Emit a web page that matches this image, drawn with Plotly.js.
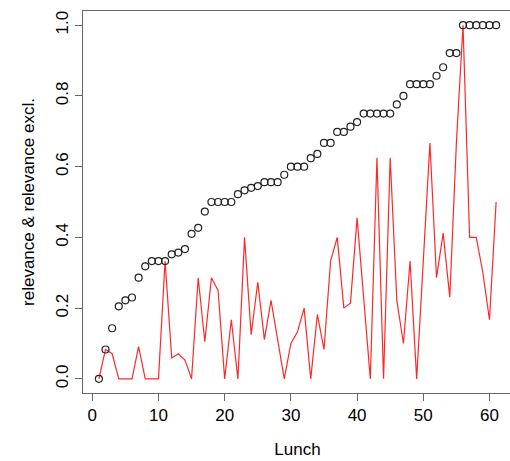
<!DOCTYPE html>
<html>
<head>
<meta charset="utf-8">
<script src="https://cdn.plot.ly/plotly-3.0.1.min.js"></script>
<style>
html, body { margin: 0; padding: 0; overflow: hidden; background: #fff; }
#chart { width: 514px; height: 461px; }
</style>
</head>
<body>
<div id="chart"></div>
<script>
// Lunch index
const lunch = [];
for (let i = 1; i <= 61; i++) lunch.push(i);

// relevance (open circles)
const relevance = [
  0, 0.083, 0.143, 0.205, 0.222, 0.23, 0.286, 0.318, 0.333, 0.333,
  0.333, 0.352, 0.357, 0.367, 0.41, 0.427, 0.473, 0.5, 0.5, 0.5,
  0.5, 0.522, 0.533, 0.54, 0.545, 0.556, 0.556, 0.556, 0.577, 0.6,
  0.6, 0.6, 0.624, 0.636, 0.667, 0.667, 0.698, 0.698, 0.713, 0.726,
  0.75, 0.75, 0.75, 0.75, 0.75, 0.776, 0.8, 0.833, 0.833, 0.833,
  0.833, 0.857, 0.881, 0.921, 0.921, 1, 1, 1, 1, 1,
  1
];

// relevance excl. (red line)
const relevanceExcl = [
  0, 0.083, 0.071, 0, 0, 0, 0.091, 0, 0, 0,
  0.333, 0.059, 0.071, 0.053, 0, 0.286, 0.105, 0.286, 0.25, 0,
  0.167, 0, 0.4, 0.125, 0.273, 0.111, 0.222, 0.111, 0, 0.1,
  0.133, 0.2, 0, 0.182, 0.083, 0.333, 0.4, 0.2, 0.214, 0.455,
  0.227, 0, 0.625, 0, 0.625, 0.222, 0.1, 0.333, 0, 0.333,
  0.667, 0.286, 0.412, 0.231, 0.667, 1, 0.4, 0.4, 0.3, 0.167,
  0.5
];

const xTicks = [0, 10, 20, 30, 40, 50, 60];
const yTicks = [0, 0.2, 0.4, 0.6, 0.8, 1.0];
const yTickText = ['0.0', '0.2', '0.4', '0.6', '0.8', '1.0'];

const font = { family: 'Liberation Sans, Arial, sans-serif', size: 17, color: '#000' };

const traces = [
  {
    x: lunch, y: relevanceExcl, type: 'scatter', mode: 'lines',
    line: { color: 'rgb(255,40,40)', width: 1.2 },
    hoverinfo: 'skip', showlegend: false
  },
  {
    x: lunch, y: relevance, type: 'scatter', mode: 'markers',
    marker: { symbol: 'circle-open', size: 7, color: '#222', line: { width: 1.2, color: '#222' } },
    hoverinfo: 'skip', showlegend: false
  }
];

const layout = {
  width: 514, height: 461,
  margin: { l: 83, r: 2, t: 11, b: 68 },
  paper_bgcolor: '#fff', plot_bgcolor: '#fff',
  font: font,
  showlegend: false,
  xaxis: {
    range: [-1.4, 63.4],
    showgrid: false, zeroline: false,
    showline: true, mirror: true, linecolor: '#666', linewidth: 1,
    ticks: 'outside', ticklen: 7, tickcolor: '#666', tickwidth: 1,
    tickvals: xTicks, ticktext: xTicks.map(String),
    tickfont: font,
    title: { text: 'Lunch', font: font, standoff: 18 }
  },
  yaxis: {
    range: [-0.04, 1.04],
    showgrid: false, zeroline: false,
    showline: true, mirror: true, linecolor: '#666', linewidth: 1,
    ticks: 'outside', ticklen: 7, tickcolor: '#666', tickwidth: 1,
    tickvals: yTicks, ticktext: yTickText, tickangle: -90,
    tickfont: font,
    title: { text: 'relevance &amp; relevance excl.', font: font, standoff: 14 }
  }
};

Plotly.newPlot('chart', traces, layout, { staticPlot: true, displayModeBar: false });
</script>
</body>
</html>
